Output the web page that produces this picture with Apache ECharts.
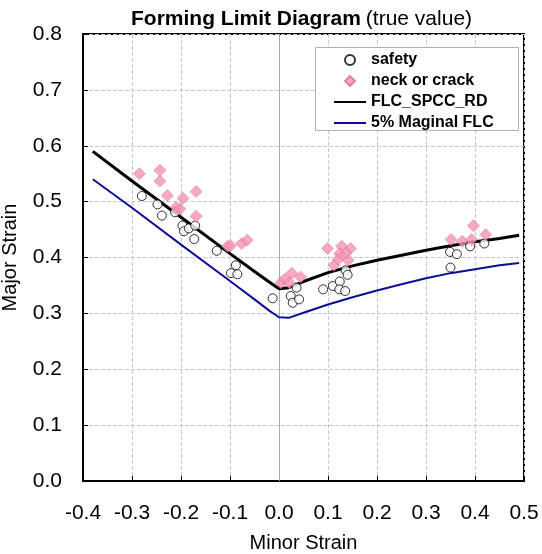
<!DOCTYPE html>
<html>
<head>
<meta charset="utf-8">
<script src="https://cdn.jsdelivr.net/npm/echarts@6/dist/echarts.min.js"></script>
<style>
html,body{margin:0;padding:0;background:#fff;}
#chart{width:542px;height:554px;}
</style>
</head>
<body>
<div id="chart"></div>
<script>
// ---- data ----
const xTicks = [-0.4, -0.3, -0.2, -0.1, 0.0, 0.1, 0.2, 0.3, 0.4, 0.5];
const yTicks = [0.0, 0.1, 0.2, 0.3, 0.4, 0.5, 0.6, 0.7, 0.8];

const safetyPoints = [
  [-0.280,0.510],[-0.248,0.495],[-0.239,0.475],[-0.212,0.481],[-0.197,0.457],[-0.194,0.447],
  [-0.184,0.452],[-0.171,0.457],[-0.173,0.433],[-0.127,0.412],[-0.088,0.386],[-0.098,0.372],[-0.085,0.370],
  [-0.013,0.327],[0.024,0.331],[0.036,0.346],[0.028,0.319],[0.041,0.325],
  [0.090,0.343],[0.110,0.349],[0.124,0.357],[0.136,0.377],[0.140,0.369],[0.123,0.343],[0.135,0.340],
  [0.349,0.410],[0.363,0.406],[0.350,0.382],[0.390,0.420],[0.419,0.425]
];
const crackPoints = [
  [-0.285,0.550],[-0.243,0.556],[-0.243,0.537],[-0.228,0.511],[-0.196,0.506],[-0.210,0.490],
  [-0.202,0.487],[-0.169,0.518],[-0.169,0.474],[-0.105,0.420],[-0.099,0.421],[-0.076,0.425],[-0.065,0.431],
  [0.004,0.355],[0.012,0.361],[0.026,0.372],[0.021,0.355],[0.044,0.365],
  [0.099,0.416],[0.112,0.386],[0.128,0.420],[0.146,0.416],[0.124,0.407],[0.137,0.408],[0.121,0.397],[0.141,0.395],
  [0.351,0.432],[0.374,0.429],[0.393,0.432],[0.397,0.457],[0.422,0.441]
];
const flcX      = [-0.38, -0.3, -0.2, -0.1, -0.05, -0.02, 0.0, 0.02, 0.05, 0.1, 0.15, 0.2, 0.25, 0.3, 0.35, 0.4, 0.45, 0.49];
const flcY      = [0.590, 0.537, 0.472, 0.407, 0.375, 0.356, 0.344, 0.346, 0.357, 0.373, 0.385, 0.395, 0.404, 0.413, 0.421, 0.428, 0.434, 0.440];
const marginalY = [0.540, 0.489, 0.423, 0.358, 0.325, 0.305, 0.293, 0.292, 0.301, 0.316, 0.329, 0.341, 0.352, 0.363, 0.372, 0.379, 0.386, 0.390];

const seriesNames = ['safety', 'neck or crack', 'FLC_SPCC_RD', '5% Maginal FLC'];

// ---- chart ----
const chart = echarts.init(document.getElementById('chart'));
const font = '"Liberation Sans", Arial, sans-serif';
const zip = (xs, ys) => xs.map((x, i) => [x, ys[i]]);
const noDot = { color: 'rgba(0,0,0,0)', borderWidth: 0, borderColor: 'rgba(0,0,0,0)' };

chart.setOption({
  animation: false,
  backgroundColor: '#fff',
  textStyle: { fontFamily: font },
  title: {
    text: '{b|Forming Limit Diagram} {n|(true value)}',
    left: 126, top: 4,
    textStyle: {
      rich: {
        b: { fontFamily: font, fontWeight: 'bold', fontSize: 21, color: '#000' },
        n: { fontFamily: font, fontWeight: 'normal', fontSize: 21, color: '#000' }
      }
    }
  },
  graphic: [{
    type: 'rect', z: 3, silent: true,
    shape: { x: 315.5, y: 47.5, width: 203, height: 83 },
    style: { fill: '#fff', stroke: '#b0b0b0', lineWidth: 1 }
  }],
  legend: {
    data: [
      { name: seriesNames[0] },
      { name: seriesNames[1], icon: 'path://M0,-1L1,0L0,1L-1,0Z' },
      { name: seriesNames[2], itemStyle: noDot },
      { name: seriesNames[3], itemStyle: noDot }
    ],
    z: 5,
    orient: 'vertical',
    left: 315, top: 47,
    padding: [5, 4, 4, 18],
    itemWidth: 32, itemHeight: 10, itemGap: 5,
    symbolKeepAspect: true,
    textStyle: { fontFamily: font, fontWeight: 'bold', fontSize: 16, color: '#000' }
  },
  grid: {
    left: 83, right: 18, top: 34, bottom: 73,
    outerBoundsMode: 'none', containLabel: false,
    show: true, borderColor: '#000', borderWidth: 2, backgroundColor: '#fff'
  },
  xAxis: {
    type: 'value', min: xTicks[0], max: xTicks[xTicks.length - 1], interval: 0.1,
    name: 'Minor Strain', nameLocation: 'middle', nameGap: 52,
    nameTextStyle: { fontFamily: font, fontSize: 20, color: '#000' },
    axisLine: { show: true, onZero: false, lineStyle: { color: '#000', width: 2 } },
    axisTick: { show: true, inside: true, length: 5, lineStyle: { color: '#000' } },
    axisLabel: { fontFamily: font, fontSize: 21, color: '#000', margin: 22,
      formatter: v => v.toFixed(1) },
    splitLine: { show: true, lineStyle: { color: '#c8c8c8', type: 'dashed', width: 1 } }
  },
  yAxis: {
    type: 'value', min: yTicks[0], max: yTicks[yTicks.length - 1], interval: 0.1,
    name: 'Major Strain', nameLocation: 'middle', nameGap: 63,
    nameTextStyle: { fontFamily: font, fontSize: 20, color: '#000' },
    axisLine: { show: true, onZero: false, lineStyle: { color: '#000', width: 2 } },
    axisTick: { show: true, inside: true, length: 5, lineStyle: { color: '#000' } },
    axisLabel: { fontFamily: font, fontSize: 21, color: '#000', margin: 21,
      formatter: v => v.toFixed(1) },
    splitLine: { show: true, lineStyle: { color: '#c8c8c8', type: 'dashed', width: 1 } }
  },
  series: [
    {
      name: seriesNames[0], type: 'scatter', z: 4,
      symbol: 'circle', symbolSize: 9,
      itemStyle: { color: '#fff', borderColor: '#000', borderWidth: 1 },
      data: safetyPoints
    },
    {
      name: seriesNames[1], type: 'scatter', z: 5,
      symbol: 'diamond', symbolSize: 12,
      itemStyle: { color: '#F493B0', borderColor: '#DA6E8E', borderWidth: 0.6 },
      data: crackPoints
    },
    {
      name: seriesNames[2], type: 'line', z: 3,
      symbol: 'none', showSymbol: false,
      lineStyle: { color: '#000', width: 3 },
      itemStyle: { color: '#000' },
      data: zip(flcX, flcY),
      markLine: {
        silent: true, symbol: 'none', z: 1,
        label: { show: false },
        lineStyle: { color: '#a8a8a8', type: 'solid', width: 1 },
        data: [{ xAxis: 0 }]
      }
    },
    {
      name: seriesNames[3], type: 'line', z: 3,
      symbol: 'none', showSymbol: false,
      lineStyle: { color: '#0c0c96', width: 2 },
      itemStyle: { color: '#0c0c96' },
      data: zip(flcX, marginalY)
    }
  ]
});
</script>
</body>
</html>
